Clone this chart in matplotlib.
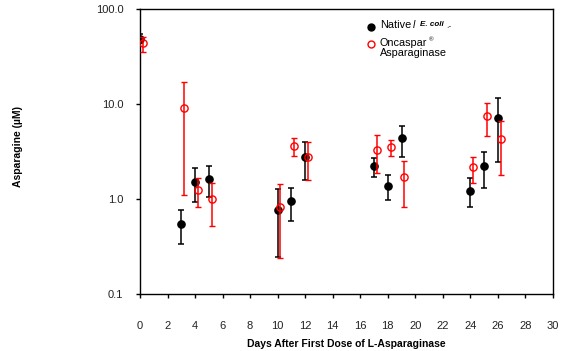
import matplotlib
matplotlib.use("Agg")
import matplotlib.pyplot as plt
import numpy as np
from matplotlib.ticker import FixedLocator, NullLocator, FixedFormatter

plt.rcParams['font.family'] = ['Liberation Sans', 'DejaVu Sans']

# Native E. coli
native_days = [0, 3, 4, 5, 10, 11, 12, 17, 18, 19, 24, 25, 26]
native_val = [49, 0.55, 1.53, 1.64, 0.77, 0.96, 2.81, 2.22, 1.39, 4.39, 1.23, 2.24, 7.17]
native_hi = [55, 0.77, 2.12, 2.24, 1.27, 1.31, 4.0, 2.7, 1.79, 5.87, 1.66, 3.17, 11.6]
native_lo = [44, 0.34, 0.94, 1.06, 0.25, 0.59, 1.6, 1.7, 0.98, 2.81, 0.82, 1.31, 2.45]

# Oncaspar
onc_days = [0.2, 3.2, 4.2, 5.2, 10.2, 11.2, 12.2, 17.2, 18.2, 19.2, 24.2, 25.2, 26.2]
onc_val = [44.2, 9.08, 1.25, 1.01, 0.84, 3.64, 2.81, 3.28, 3.53, 1.70, 2.17, 7.47, 4.31]
onc_hi = [51.5, 17.0, 1.69, 1.5, 1.44, 4.42, 4.0, 4.72, 4.18, 2.55, 2.81, 10.2, 6.7]
onc_lo = [35.3, 1.11, 0.83, 0.52, 0.24, 2.88, 1.6, 1.88, 2.86, 0.82, 1.47, 4.6, 1.79]

x_ticks = list(range(0, 31, 2))
y_ticks = [0.1, 1, 10, 100]
y_labels = ["0.1", "1.0", "10.0", "100.0"]

fig = plt.figure(figsize=(5.66, 3.51), dpi=100)
ax = fig.add_axes([0.2473, 0.1615, 0.977 - 0.2473, 0.9735 - 0.1615])

nv = np.array(native_val)
ov = np.array(onc_val)
ax.errorbar(native_days, nv,
            yerr=[nv - np.array(native_lo), np.array(native_hi) - nv],
            fmt='o', color='black', ecolor='black', markersize=5.2,
            elinewidth=1.1, capsize=2.2, capthick=1.1, zorder=3)
ax.errorbar(onc_days, ov,
            yerr=[ov - np.array(onc_lo), np.array(onc_hi) - ov],
            fmt='o', mfc='none', mec='red', color='red', ecolor='red', markersize=5.2,
            mew=1.0, elinewidth=1.1, capsize=2.2, capthick=1.1, zorder=4)

ax.set_yscale('log')
ax.set_ylim(0.1, 100)
ax.set_xlim(0, 30)
ax.yaxis.set_major_locator(FixedLocator(y_ticks))
ax.yaxis.set_major_formatter(FixedFormatter(y_labels))
ax.yaxis.set_minor_locator(NullLocator())
ax.set_xticks(x_ticks)
ax.tick_params(axis='both', direction='out', length=3, width=1, labelsize=8, color='black', labelcolor='#222222')
ax.tick_params(axis='y', pad=9)
ax.tick_params(axis='x', pad=16)
for s in ax.spines.values():
    s.set_linewidth(1.0)

ax.set_xlabel("Days After First Dose of L-Asparaginase", fontsize=7.5, fontweight='bold', labelpad=6)
fig.text(0.032, 0.5834, "Asparagine (µM)", rotation=90, fontsize=7.5, fontweight='bold',
         ha='center', va='center')

# legend (drawn manually to mimic the original layout)
lx = 371 / 566
fig.add_artist(plt.Line2D([lx], [1 - 26.5 / 351], marker='o', color='black', markersize=5, linestyle='none',
                          transform=fig.transFigure))
fig.add_artist(plt.Line2D([lx], [1 - 44 / 351], marker='o', mfc='none', mec='red', mew=1.0, markersize=5,
                          linestyle='none', transform=fig.transFigure))
tx = 380 / 566
fig.text(tx, 1 - 25.5 / 351, "Native", fontsize=7.8, va='center', ha='left')
fig.text(413 / 566, 1 - 25.5 / 351, "l", fontsize=7.5, style='italic', va='center', ha='left')
fig.text(420 / 566, 1 - 25 / 351, "E. coli", fontsize=5.8, style='italic', fontweight='bold', va='center', ha='left')
fig.text(446 / 566, 1 - 26 / 351, ".-", fontsize=6, va='center', ha='left')
fig.text(tx, 1 - 43.5 / 351, "Oncaspar", fontsize=7.8, va='center', ha='left')
fig.text(429 / 566, 1 - 39.5 / 351, "®", fontsize=4.5, va='center', ha='left')
fig.text(tx, 1 - 53.5 / 351, "Asparaginase", fontsize=7.8, va='center', ha='left')

fig.savefig("out.png", dpi=100)
